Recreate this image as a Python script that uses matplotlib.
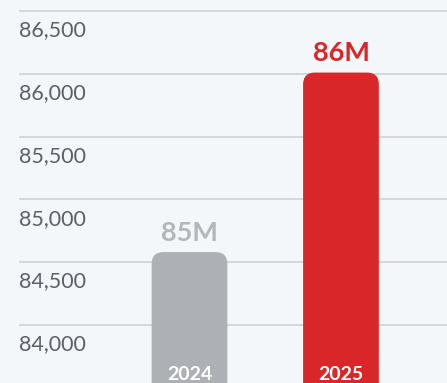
import matplotlib
matplotlib.use("Agg")
import matplotlib.pyplot as plt
from matplotlib.patches import FancyBboxPatch
import matplotlib.transforms as mtransforms

years = ["2024", "2025"]
values = [84580, 86010]
value_labels = ["85M", "86M"]
bar_colors = ["#adb1b5", "#d92628"]
label_colors = ["#b3b6ba", "#d92628"]
ticks = [84000, 84500, 85000, 85500, 86000, 86500]
tick_labels = ["84,000", "84,500", "85,000", "85,500", "86,000", "86,500"]

W, H = 447, 383
fig = plt.figure(figsize=(W / 100, H / 100), dpi=100)
bg = "#f4f7fa"
fig.patch.set_facecolor(bg)
ax = fig.add_axes([0, 0, 1, 1])
ax.set_facecolor(bg)
for s in ax.spines.values():
    s.set_visible(False)
ax.set_xticks([])
ax.set_yticks([])

ymin, ymax = 83537, 86588
ax.set_ylim(ymin, ymax)
ax.set_xlim(-1.251, 1.700)

# grid lines and tick labels
for t, lab in zip(ticks, tick_labels):
    ax.axhline(t, xmin=20 / W, xmax=1, color="#cdd1d6", lw=1.2, zorder=1)
    ax.text(19 / W, t - 75, lab, transform=mtransforms.blended_transform_factory(ax.transAxes, ax.transData),
            ha="left", va="top", fontsize=15.5, color="#5a6067", family="Lato", fontweight="normal")

xs = list(range(len(years)))
bw = 0.5
px_x = 151.5  # pixels per x unit
px_y = H / (ymax - ymin)  # pixels per y unit
r_px = 12
rx = r_px / px_x
ry = r_px / px_y
for x, v, c in zip(xs, values, bar_colors):
    bottom = ymin - 500
    p = FancyBboxPatch((x - bw / 2, bottom), bw, v - bottom,
                       boxstyle=f"round,pad=0,rounding_size={rx}",
                       mutation_aspect=ry / rx, fc=c, ec="none", zorder=2)
    ax.add_patch(p)

for x, v, lab, c in zip(xs, values, value_labels, label_colors):
    ax.text(x, v + 60, lab, ha="center", va="bottom", fontsize=19.5, fontweight="bold",
            color=c, family="Lato", zorder=3)

for x, y in zip(xs, years):
    ax.text(x, ymin + 0, y, ha="center", va="bottom", fontsize=14, fontweight="bold",
            color="white", family="Lato", zorder=3)

fig.savefig("out.png", dpi=100, facecolor=bg)
